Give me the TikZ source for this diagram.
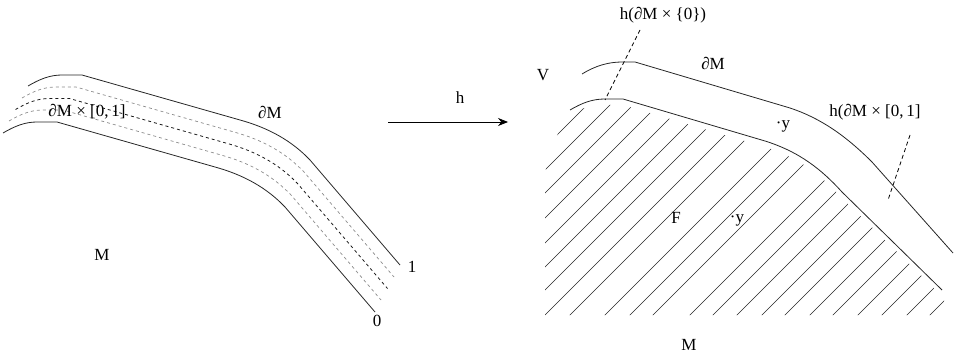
\documentclass[tikz,border=0pt]{standalone}
\usepackage{fontspec}
\setmainfont{Liberation Serif}
\usetikzlibrary{arrows.meta}
\begin{document}
\begin{tikzpicture}[x=1pt,y=-1pt,
  lbl/.style={inner sep=0pt, font=\fontsize{17}{20}\selectfont},
  curve/.style={line width=0.8pt, black!85},
  gdash/.style={line width=0.7pt, black!45, dash pattern=on 3pt off 3pt},
  bdash/.style={line width=0.8pt, black!90, dash pattern=on 3pt off 3pt},
  hatch/.style={line width=0.65pt, black!85},
  ptr/.style={line width=0.8pt, dash pattern=on 4pt off 3pt},
  leftband/.pic={\draw[pic actions] (28,86) .. controls (40,79) and (50,75) .. (62,75) -- (82,75) -- (240,120) .. controls (269,128) and (292,141) .. (310,160) -- (400,265);}
]
\useasboundingbox (0,0) rectangle (957,358);

% ---------- left figure ----------
\pic[curve] at (0,0) {leftband};
\pic[curve] at (-25,47) {leftband};
\pic[gdash] at (-6,12) {leftband};
\pic[bdash] at (-12.5,23.5) {leftband};
\pic[gdash] at (-19,35) {leftband};

\node[lbl, fill=white, fill opacity=0, text opacity=1] (collar) at (87,112) {∂M × [0,\,1]};
\node[lbl] (dML) at (270,112) {∂M};
\node[lbl] (ML) at (102,255) {M};
\node[lbl] (one) at (412,267) {1};
\node[lbl] (zero) at (377,321) {0};

% ---------- arrow ----------
\coordinate (a1) at (388,122);
\coordinate (a2) at (508,122);
\draw[line width=0.8pt, -{Stealth[length=10pt,width=8pt]}] (a1) -- (a2);
\node[lbl] (h) at (460,98) {h};

% ---------- right figure ----------
\draw[curve] (582,74) .. controls (595,66) and (608,62) .. (622,62) -- (635,62) -- (790,108) .. controls (820,118) and (845,135) .. (872,162) -- (953,253);
\draw[curve] (570,110) .. controls (582,103) and (592,99) .. (605,99) -- (623,99) -- (765,141) .. controls (800,152) and (822,170) .. (842,192) -- (942,290);

\begin{scope}
\clip (566,116) .. controls (578,109) and (592,105) .. (605,105) -- (623,105) -- (765,147) .. controls (800,158) and (822,176) .. (842,198) -- (944,298) -- (944,315) -- (545,315) -- (545,172) -- (555,140) -- cycle;
\foreach \c in {692,715,738,763,788,812,835,860,885,920,945,968,1005,1028,1052,1077,1100,1125,1148,1173,1197,1222,1245}
  \draw[hatch] (\c-330,330) -- (\c-40,40);
\end{scope}

\node[lbl] (V) at (543,75) {V};
\node[lbl] (h0) at (663,15) {h(∂M × \{0\})};
\node[lbl] (dMR) at (713,63) {∂M};
\node[lbl] (hcol) at (875,112) {h(∂M × [0,\,1]};
\node[lbl] (y1) at (783,126) {·y};
\node[lbl] (F) at (676,218) {F};
\node[lbl] (y2) at (737,220) {·y};
\node[lbl] (MR) at (689,345) {M};

\coordinate (p1a) at (640,30);
\coordinate (p1b) at (605,100);
\draw[ptr] (p1a) -- (p1b);
\coordinate (p2a) at (910,135);
\coordinate (p2b) at (888,200);
\draw[ptr] (p2a) -- (p2b);
\end{tikzpicture}
\end{document}
